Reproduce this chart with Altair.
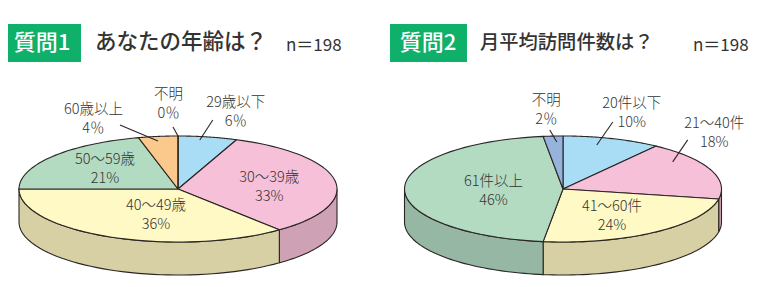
import altair as alt
import pandas as pd

# ---------------- data ----------------
q1_title = "あなたの年齢は？"
q1_categories = ["29歳以下", "30〜39歳", "40〜49歳", "50〜59歳", "60歳以上", "不明"]
q1_values = [6, 33, 36, 21, 4, 0]

q2_title = "月平均訪問件数は？"
q2_categories = ["20件以下", "21〜40件", "41〜60件", "61件以上", "不明"]
q2_values = [10, 18, 24, 46, 2]

sample_size = 198

# ---------------- styles / layout ----------------
FONT = "Noto Sans CJK JP"
TXT = "#333333"
EDGE = "#2a2624"
GREEN = "#0fb06a"
W, H = 744, 271
N = 48  # points per arc

PIES = {
    1: dict(cx=170, cy=181, rx=159, ry=53, depth=33),
    2: dict(cx=555, cy=181, rx=158.5, ry=53, depth=33),
}

TOP_COLORS = {
    "29歳以下": "#a9ddf5", "30〜39歳": "#f7c0d9", "40〜49歳": "#fff9c6",
    "50〜59歳": "#b3dbc1", "60歳以上": "#fcc98c",
    "20件以下": "#a9ddf5", "21〜40件": "#f7c0d9", "41〜60件": "#fff9c6",
    "61件以上": "#b3dbc1", "不明": "#95b3dc",
}
SIDE_COLORS = {
    "30〜39歳": "#cea1b5", "40〜49歳": "#d6d0a4",
    "21〜40件": "#cea1b5", "41〜60件": "#d6d0a4", "61件以上": "#95b7a3",
    "29歳以下": "#8fb9cc", "50〜59歳": "#95b7a3", "60歳以上": "#d4a877",
    "20件以下": "#8fb9cc", "不明": "#7c96b8",
}

# label placement: anchor at fraction t of the slice, radius factor r,
# text offset (ldx, ldy) and leader end offset (edx, edy) from the anchor
LABELS = {
    (1, "29歳以下"): dict(inside=0, t=0.39, r=0.935, edx=13, edy=-20, ldx=36, ldy=-27.5),
    (1, "30〜39歳"): dict(inside=1, t=0.5, r=0.6, edx=0, edy=0, ldx=-3, ldy=3),
    (1, "40〜49歳"): dict(inside=1, t=0.5, r=0.6, edx=0, edy=0, ldx=18.6, ldy=-1.8),
    (1, "50〜59歳"): dict(inside=1, t=0.5, r=0.6, edx=0, edy=0, ldx=2.4, ldy=-0.5),
    (1, "60歳以上"): dict(inside=0, t=0.45, r=0.915, edx=-38, edy=-16, ldx=-64.5, ldy=-21.5),
    (1, "不明"): dict(inside=0, t=0.5, r=1.0, edx=-5, edy=-9, ldx=-9.5, ldy=-32),
    (2, "20件以下"): dict(inside=0, t=0.40, r=0.857, edx=16, edy=-23, ldx=35, ldy=-32),
    (2, "21〜40件"): dict(inside=0, t=0.27, r=0.861, edx=15, edy=-22, ldx=41.5, ldy=-28),
    (2, "41〜60件"): dict(inside=1, t=0.5, r=0.6, edx=0, edy=0, ldx=-6.9, ldy=1.3),
    (2, "61件以上"): dict(inside=1, t=0.5, r=0.6, edx=0, edy=0, ldx=25.6, ldy=2),
    (2, "不明"): dict(inside=0, t=0.65, r=0.888, edx=-7, edy=-12, ldx=-10.5, ldy=-31),
}

# ---------------- table built from the arrays ----------------
rows = []
for pie, cats, vals in ((1, q1_categories, q1_values), (2, q2_categories, q2_values)):
    for i, (c, v) in enumerate(zip(cats, vals)):
        r = dict(pie=pie, order=i, cat=c, value=v, key=f"{pie}|{c}", skey=f"{pie}|{c}|side")
        r.update(PIES[pie])
        r.update(LABELS[(pie, c)])
        r["steps_top"] = list(range(N + 3))
        r["steps_side"] = list(range(2 * N + 3))
        rows.append(r)
df = pd.DataFrame(rows)

color_domain = list(df["key"]) + list(df["skey"])
color_range = [TOP_COLORS[c] for c in df["cat"]] + [SIDE_COLORS[c] for c in df["cat"]]
fill_scale = alt.Scale(domain=color_domain, range=color_range)

def xs(field):
    return alt.X(field, scale=alt.Scale(domain=[0, W], nice=False, zero=False), axis=None)

def ys(field):
    return alt.Y(field, scale=alt.Scale(domain=[0, H], nice=False, zero=False, reverse=True), axis=None)

base = (
    alt.Chart(df)
    .transform_joinaggregate(total="sum(value)", groupby=["pie"])
    .transform_window(cum="sum(value)", groupby=["pie"], sort=[alt.SortField("order")],
                      frame=[None, 0])
    .transform_calculate(
        a0="2*PI*(datum.cum - datum.value)/datum.total",
        a1="2*PI*datum.cum/datum.total",
    )
)

# side walls (front half of the rim)
side = (
    base.transform_filter("datum.a1 > PI/2 + 1e-9 && datum.a0 < 3*PI/2 - 1e-9")
    .transform_calculate(b0="max(datum.a0, PI/2)", b1="min(datum.a1, 3*PI/2)")
    .transform_flatten(["steps_side"], as_=["s"])
    .transform_calculate(
        ang=f"datum.s <= {N} ? datum.b0 + (datum.b1-datum.b0)*datum.s/{N} : "
            f"(datum.s <= {2*N+1} ? datum.b1 - (datum.b1-datum.b0)*(datum.s-{N+1})/{N} : datum.b0)",
        low=f"datum.s > {N} && datum.s <= {2*N+1} ? 1 : 0",
    )
    .transform_calculate(
        x="datum.cx + datum.rx*sin(datum.ang)",
        y="datum.cy - datum.ry*cos(datum.ang) + datum.low*datum.depth",
    )
    .mark_line(stroke=EDGE, strokeWidth=1.1, strokeJoin="round")
    .encode(x=xs("x:Q"), y=ys("y:Q"), order=alt.Order("s:Q"),
            fill=alt.Fill("skey:N", scale=fill_scale, legend=None), detail="skey:N")
)

# top faces
top = (
    base.transform_flatten(["steps_top"], as_=["s"])
    .transform_calculate(
        ang=f"datum.a0 + (datum.a1-datum.a0)*clamp(datum.s-1, 0, {N})/{N}",
        ctr=f"datum.s == 0 || datum.s == {N+2} ? 1 : 0",
    )
    .transform_calculate(
        x="datum.ctr ? datum.cx : datum.cx + datum.rx*sin(datum.ang)",
        y="datum.ctr ? datum.cy : datum.cy - datum.ry*cos(datum.ang)",
    )
    .mark_line(stroke=EDGE, strokeWidth=1.1, strokeJoin="round")
    .encode(x=xs("x:Q"), y=ys("y:Q"), order=alt.Order("s:Q"),
            fill=alt.Fill("key:N", scale=fill_scale, legend=None), detail="key:N")
)

lab = base.transform_calculate(
    am="datum.a0 + (datum.a1-datum.a0)*datum.t",
).transform_calculate(
    sx="datum.cx + datum.r*datum.rx*sin(datum.am)",
    sy="datum.cy - datum.r*datum.ry*cos(datum.am)",
).transform_calculate(
    lx="datum.sx + datum.ldx", ly="datum.sy + datum.ldy",
    ex="datum.sx + datum.edx", ey="datum.sy + datum.edy",
    pct="datum.value + (datum.value < 10 ? '％' : '%')",
)

leaders = lab.transform_filter("datum.inside == 0").mark_rule(
    stroke=EDGE, strokeWidth=1.1
).encode(x=xs("sx:Q"), y=ys("sy:Q"), x2="ex:Q", y2="ey:Q")

text_props = dict(font=FONT, fontSize=14.5, fontWeight=300, color=TXT,
                  align="center", baseline="middle")
lab1 = lab.mark_text(dy=-9.5, **text_props).encode(x=xs("lx:Q"), y=ys("ly:Q"), text="cat:N")
lab2 = lab.mark_text(dy=9.5, **text_props).encode(x=xs("lx:Q"), y=ys("ly:Q"), text="pct:N")

# header: green tag boxes and question texts
hdr = pd.DataFrame({"d": [0]})

def box(x0, x1):
    return alt.Chart(hdr).mark_rect(color=GREEN).encode(
        x=alt.value(x0), x2=alt.value(x1), y=alt.value(16), y2=alt.value(54))

def txt(s, x, size, color=TXT, align="left", weight=500, y=35):
    return alt.Chart(hdr).mark_text(
        text=s, font=FONT, fontSize=size, color=color, align=align,
        baseline="middle", fontWeight=weight
    ).encode(x=alt.value(x), y=alt.value(y))

header = [
    box(0, 73), txt("質問1", 34, 22, "white", "center", 500),
    txt(q1_title, 87, 21.5), txt(f"n＝{sample_size}", 278, 17, weight=400, y=38),
    box(382, 459), txt("質問2", 420, 22, "white", "center", 500),
    txt(q2_title, 472, 19.3), txt(f"n＝{sample_size}", 685, 17, weight=400, y=38),
]

chart = alt.layer(side, top, leaders, lab1, lab2, *header).properties(
    width=W, height=H, padding=0, background="white",
    autosize=alt.AutoSizeParams(type="none"),
).configure_view(stroke=None, strokeWidth=0)

chart.save("out.html", embed_options={"renderer": "svg", "actions": False})
